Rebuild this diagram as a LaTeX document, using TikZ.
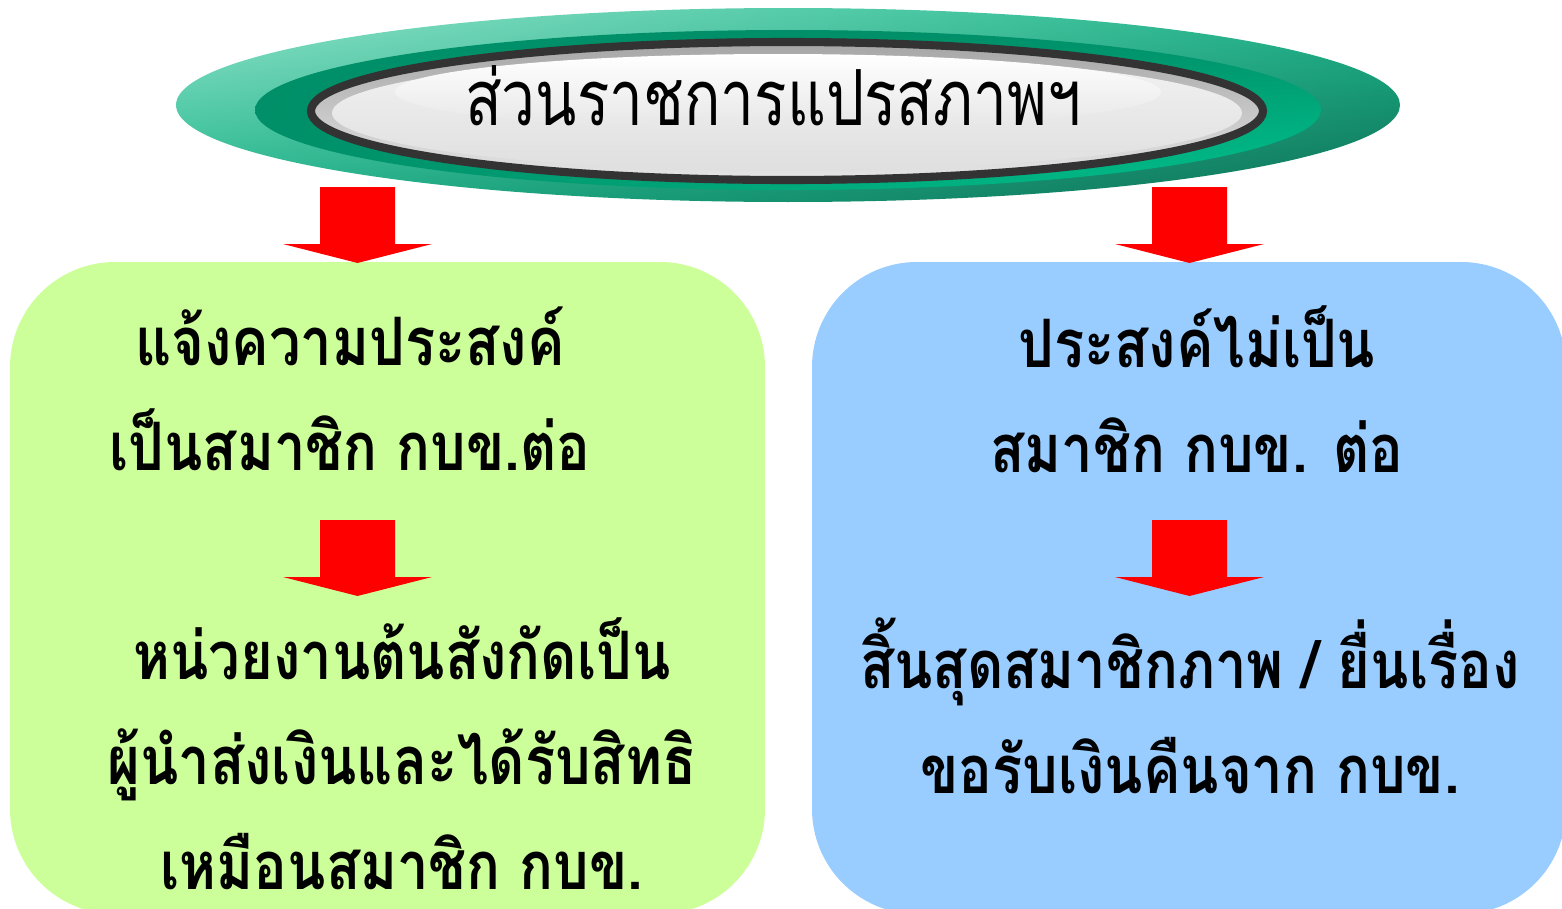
\documentclass[tikz,border=0pt]{standalone}
\usepackage{fontspec}
\newfontfamily\thaifont[Script=Thai, FakeStretch=0.84]{Loma}
\newfontfamily\titlefont[Script=Thai, FakeStretch=0.78]{Loma}
\usetikzlibrary{positioning,calc,shadings}

\definecolor{boxgreen}{HTML}{CCFF99}
\definecolor{boxblue}{HTML}{99CCFF}
\definecolor{arrowred}{HTML}{FF0000}
\definecolor{rimdark}{HTML}{333333}
\definecolor{mintlight}{HTML}{92E4CB}
\definecolor{mintmid}{HTML}{1DB58A}
\definecolor{tealdark}{HTML}{0C6E55}
\definecolor{ringdark}{HTML}{008F68}
\definecolor{ringbright}{HTML}{00C48E}

\tikzset{
  boxtext/.style={font=\thaifont\bfseries\fontsize{19}{29.9}\selectfont, align=center, text=black, inner sep=0pt},
  titletext/.style={font=\titlefont\fontsize{22}{25}\selectfont, text=black},
  redarrow/.pic={
    \fill[arrowred] (-37.5,0) -- (37.5,0) -- (37.5,57) -- (74.5,57)
      -- (0,76) -- (-74.5,57) -- (-37.5,57) -- cycle;
  }
}

\begin{document}
\begin{tikzpicture}[x=0.01cm, y=-0.01cm]
  \useasboundingbox (0,0) rectangle (1562,909);

  % title ellipse, outer green ring
  \begin{scope}
    \clip (788,105) ellipse [x radius=612, y radius=97];
    \shade[upper left=mintlight, upper right=mintmid,
      lower left=mintmid, lower right=tealdark]
      (176,8) rectangle (1400,202);
  \end{scope}
  % inner dark green ring
  \begin{scope}
    \clip (788,110) ellipse [x radius=533, y radius=80];
    \shade[upper left=ringdark, upper right=ringdark,
      lower left=ringdark, lower right=ringbright]
      (255,30) rectangle (1321,190);
  \end{scope}
  % silver plate
  \shade[draw=rimdark, line width=2.3pt, top color=gray!70, bottom color=gray!20]
    (787,111) ellipse [x radius=476, y radius=69];
  \shade[top color=gray!10, bottom color=gray!25]
    (787,113) ellipse [x radius=455, y radius=58];
  \shade[top color=white, bottom color=gray!20]
    (778,92) ellipse [x radius=383, y radius=38];
  \node[titletext] (title) at (773,96) {ส่วนราชการแปรสภาพฯ};

  % choice boxes
  \fill[boxgreen, rounded corners=1.05cm] (10,262) rectangle (765,914);
  \fill[boxblue, rounded corners=1.05cm] (812,262) rectangle (1566,914);

  % arrows
  \pic at (357.5,187) {redarrow};
  \pic at (1189.5,187) {redarrow};
  \pic at (357.5,520) {redarrow};
  \pic at (1189.5,520) {redarrow};

  % texts
  \node[boxtext] (lhead) at (350,389) {แจ้งความประสงค์\\เป็นสมาชิก กบข.ต่อ};
  \node[boxtext] (lfoot) at (402,754) {หน่วยงานต้นสังกัดเป็น\\ผู้นำส่งเงินและได้รับสิทธิ\\เหมือนสมาชิก กบข.};
  \node[boxtext] (rhead) at (1197,389) {ประสงค์ไม่เป็น\\สมาชิก กบข. ต่อ};
  \node[boxtext] (rfoot) at (1190,706) {สิ้นสุดสมาชิกภาพ / ยื่นเรื่อง\\ขอรับเงินคืนจาก กบข.};
\end{tikzpicture}
\end{document}
